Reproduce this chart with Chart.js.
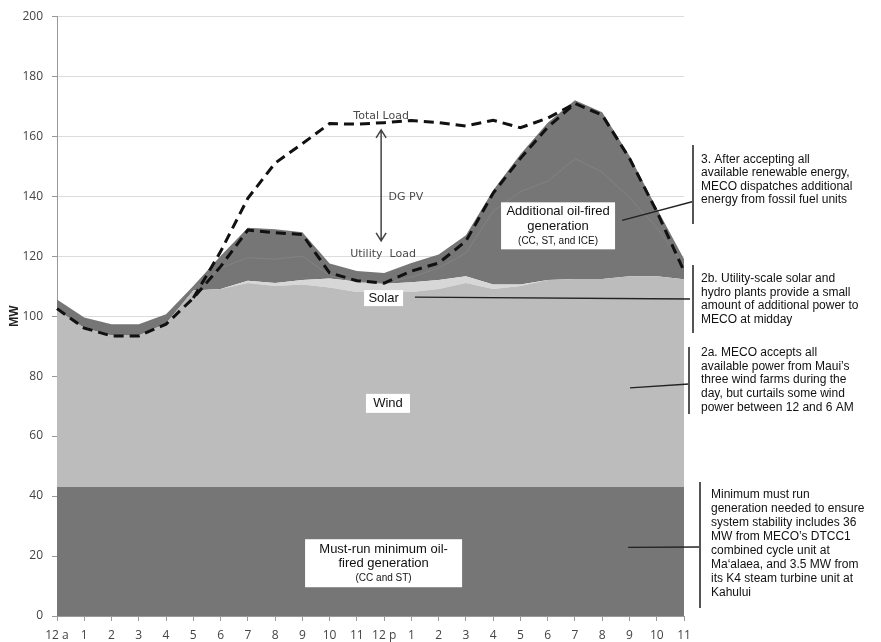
<!DOCTYPE html>
<html>
<head>
<meta charset="utf-8">
<script src="https://cdn.jsdelivr.net/npm/chart.js@4.4.1/dist/chart.umd.min.js"></script>
<style>
  html, body { margin: 0; padding: 0; background: #fff; }
  #wrap { position: relative; width: 881px; height: 642px; }
</style>
</head>
<body>
<div id="wrap"><canvas id="load-chart"></canvas></div>
<script>
// hours of the day
const hours = ['12 a', '1', '2', '3', '4', '5', '6', '7', '8', '9', '10', '11',
               '12 p', '1', '2', '3', '4', '5', '6', '7', '8', '9', '10', '11']
const yTicks = [0, 20, 40, 60, 80, 100, 120, 140, 160, 180, 200]

// stacked generation (MW)
const mustRun = [43, 43, 43, 43, 43, 43, 43, 43, 43, 43, 43, 43,
                 43, 43, 43, 43, 43, 43, 43, 43, 43, 43, 43, 43]
const wind = [59, 53, 50.5, 50.5, 54.5, 65.5, 66, 68, 67, 67.5, 66.5, 65,
              65, 65, 66, 68, 66, 67, 69, 69.4, 69.4, 70.3, 70.3, 69.3]
const solar = [0, 0, 0, 0, 0, 0, 0, 0.8, 1, 1.5, 3, 3.5,
               2.8, 3.3, 3, 2.3, 1.5, 0.5, 0, 0, 0, 0, 0, 0]
const oilFired = [3.5, 3.5, 3.8, 3.8, 3.1, 1.5, 11, 17.7, 18, 16, 5, 3.5,
                  3.6, 6.4, 8.5, 13.7, 31.5, 43.5, 52.5, 59.6, 55.6, 40.2, 22.7, 6.7]
// faint split line inside the oil-fired block
const oilSplit = [null, null, null, null, null, 109, 116, 119.5, 119, 120, 113.5, 111.5,
                  111, 113, 116, 121, 135, 141.5, 145, 152.5, 148, 139.5, 129.5, 117]

// loads (MW)
const utilityLoad = [102.5, 96, 93.4, 93.4, 97.3, 106, 116.5, 128.7, 127.8, 127.2, 114.4, 111.8,
                     111, 115, 117.7, 125, 141, 152.6, 163, 170.9, 167, 152.6, 134.9, 115]
const totalLoad = [102.5, 96, 93.4, 93.4, 97.3, 106, 121.5, 139.3, 151, 157.5, 164.2, 164,
                   164.5, 165.2, 164.5, 163.4, 165.3, 162.8, 166, 170.9, 167, 152.6, 134.9, 115]

const DARK = '#767676'
const LIGHT = '#bcbcbc'
const SOLAR = '#d7d7d7'
const SANS = "'Liberation Sans', Arial, sans-serif"

function area(label, data, color, fill) {
    return {
        label: label,
        data: data,
        stack: 'gen',
        backgroundColor: color,
        borderColor: color,
        borderWidth: 0,
        pointRadius: 0,
        tension: 0,
        fill: fill,
        order: 2
    }
}

// hide total load segments where it sits on the utility load
function sameAsUtility(i) {
    return totalLoad[i] === utilityLoad[i]
}

// annotation plugin: labels, arrow, leader lines and side notes
const annotations = {
    id: 'annotations',
    afterDatasetsDraw(chart) {
        const ctx = chart.ctx
        const x = chart.scales.x
        const y = chart.scales.y
        const right = chart.chartArea.right
        const px = (i) => x.getPixelForValue(i)
        const py = (v) => y.getPixelForValue(v)

        ctx.save()

        // grey in-plot labels
        ctx.fillStyle = '#4a4a4a'
        ctx.font = "11px 'DejaVu Sans', Verdana, sans-serif"
        ctx.textAlign = 'center'
        ctx.textBaseline = 'middle'
        ctx.fillText('Total Load', px(11.89), py(166.8))
        ctx.fillText('DG PV', px(12.8), py(139.5))
        ctx.fillText('Utility  Load', px(11.96), py(120.6))

        // double arrow for DG PV
        const ax = px(11.89), aTop = py(162.1), aBot = py(125.1)
        ctx.strokeStyle = '#444'
        ctx.lineWidth = 1.5
        ctx.beginPath()
        ctx.moveTo(ax, aTop); ctx.lineTo(ax, aBot)
        ctx.moveTo(ax - 5, aTop + 8); ctx.lineTo(ax, aTop); ctx.lineTo(ax + 5, aTop + 8)
        ctx.moveTo(ax - 5, aBot - 8); ctx.lineTo(ax, aBot); ctx.lineTo(ax + 5, aBot - 8)
        ctx.stroke()

        // leader lines
        ctx.strokeStyle = '#222'
        ctx.lineWidth = 1.3
        const leaders = [
            [px(20.73), py(131.9), right + 9, 201.5],
            [px(13.13), py(106.3), right + 6, 299],
            [px(21.02), py(76.1), right + 5, 384],
            [px(20.95), py(22.9), right + 16, 547]
        ]
        leaders.forEach(l => {
            ctx.beginPath()
            ctx.moveTo(l[0], l[1])
            ctx.lineTo(l[2], l[3])
            ctx.stroke()
        })

        // vertical bars of the side notes
        ctx.strokeStyle = '#555'
        ctx.lineWidth = 2
        const bars = [[right + 9, 145, 224], [right + 9, 265, 333], [right + 5, 347, 414], [right + 16, 482, 608]]
        bars.forEach(b => {
            ctx.beginPath()
            ctx.moveTo(b[0], b[1])
            ctx.lineTo(b[0], b[2])
            ctx.stroke()
        })

        // white boxes
        const boxes = [
            { cx: px(11.98), cy: py(106), w: 39, h: 16, lines: [['Solar', 13, 0]] },
            { cx: px(12.14), cy: py(70.9), w: 44, h: 19, lines: [['Wind', 13, 0]] },
            { cx: px(18.38), cy: py(130.1), w: 114, h: 47,
              lines: [['Additional oil-fired', 13, -14], ['generation', 13, 1], ['(CC, ST, and ICE)', 10, 15.5]] },
            { cx: px(11.98), cy: py(17.6), w: 157, h: 48,
              lines: [['Must-run minimum oil-', 13, -13.7], ['fired generation', 13, 0.3], ['(CC and ST)', 10, 15.3]] }
        ]
        boxes.forEach(b => {
            ctx.fillStyle = '#fff'
            ctx.fillRect(b.cx - b.w / 2, b.cy - b.h / 2, b.w, b.h)
            ctx.fillStyle = '#111'
            b.lines.forEach(l => {
                ctx.font = l[1] + 'px ' + SANS
                ctx.fillText(l[0], b.cx, b.cy + l[2])
            })
        })

        // side notes
        const notes = [
            { x: right + 17, y: 159.3, step: 13.6, lines: ['3. After accepting all', 'available renewable energy,',
                'MECO dispatches additional', 'energy from fossil fuel units'] },
            { x: right + 17, y: 278.3, step: 13.9, lines: ['2b. Utility-scale solar and', 'hydro plants provide a small',
                'amount of additional power to', 'MECO at midday'] },
            { x: right + 17, y: 352.7, step: 13.7, lines: ['2a. MECO accepts all', 'available power from Maui\u2019s',
                'three wind farms during the', 'day, but curtails some wind', 'power between 12 and 6 AM'] },
            { x: right + 27, y: 495, step: 13.9, lines: ['Minimum must run', 'generation needed to ensure',
                'system stability includes 36', 'MW from MECO\u2019s DTCC1', 'combined cycle unit at',
                'Ma\u2018alaea, and 3.5 MW from', 'its K4 steam turbine unit at', 'Kahului'] }
        ]
        ctx.fillStyle = '#111'
        ctx.font = '12px ' + SANS
        ctx.textAlign = 'left'
        notes.forEach(n => {
            n.lines.forEach((t, k) => ctx.fillText(t, n.x, n.y + k * n.step))
        })

        ctx.restore()
    }
}

Chart.defaults.font.family = "'Open Sans', sans-serif"
Chart.defaults.color = '#444'

const MyChart = new Chart(document.getElementById('load-chart'), {
    type: 'line',
    data: {
        labels: hours,
        datasets: [
            {
                label: 'Total Load',
                data: totalLoad,
                stack: 'total',
                borderColor: '#111',
                borderWidth: 3,
                borderDash: [10, 6],
                pointRadius: 0,
                tension: 0,
                fill: false,
                order: 0,
                segment: {
                    borderColor: c => (sameAsUtility(c.p0DataIndex) && sameAsUtility(c.p1DataIndex)) ? 'rgba(0,0,0,0)' : '#111'
                }
            },
            {
                label: 'Utility Load',
                data: utilityLoad,
                stack: 'utility',
                borderColor: '#111',
                borderWidth: 3,
                borderDash: [10, 6],
                pointRadius: 0,
                tension: 0,
                fill: false,
                order: 0
            },
            {
                label: 'split',
                data: oilSplit,
                stack: 'split',
                borderColor: '#838383',
                borderWidth: 1,
                pointRadius: 0,
                tension: 0,
                fill: false,
                order: 1
            },
            area('Must-run minimum oil-fired generation', mustRun, DARK, 'origin'),
            area('Wind', wind, LIGHT, '-1'),
            area('Solar', solar, SOLAR, '-1'),
            area('Additional oil-fired generation', oilFired, DARK, '-1')
        ]
    },
    options: {
        responsive: true,
        maintainAspectRatio: false,
        animation: false,
        layout: { padding: { top: 13, right: 197, left: 0, bottom: 0 } },
        plugins: {
            legend: { display: false },
            tooltip: { enabled: false }
        },
        scales: {
            x: {
                offset: false,
                grid: { drawOnChartArea: false, tickLength: 5, tickColor: '#999', color: '#999' },
                border: { color: '#999' },
                ticks: { autoSkip: false, maxRotation: 0, padding: 7, font: { size: 12 } },
                afterFit: s => { s.height = 26 }
            },
            y: {
                stacked: true,
                min: 0,
                max: 200,
                afterBuildTicks: s => { s.ticks = yTicks.map(v => ({ value: v })) },
                grid: { color: '#dcdcdc', tickLength: 5, tickColor: '#999' },
                border: { color: '#999' },
                ticks: { padding: 9, font: { size: 12 } },
                title: {
                    display: true,
                    text: 'MW',
                    color: '#222',
                    font: { size: 12, weight: 'bold', family: SANS },
                    padding: { top: 7, bottom: 4 }
                },
                afterFit: s => { s.width = 57 }
            }
        }
    },
    plugins: [annotations]
})
</script>
</body>
</html>
